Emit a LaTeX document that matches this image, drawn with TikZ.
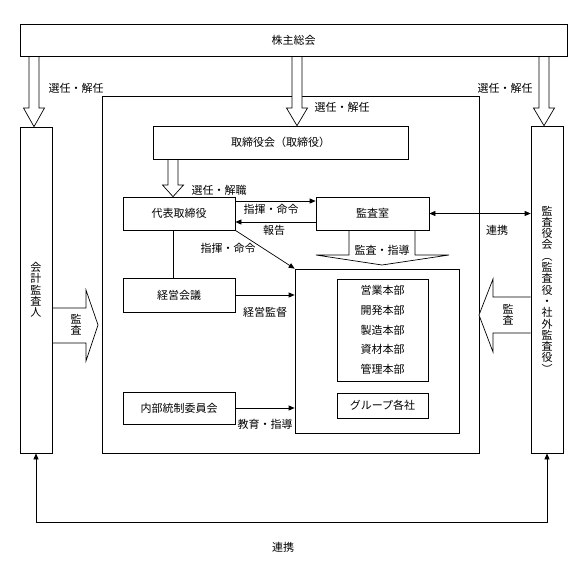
\documentclass[tikz,border=0pt]{standalone}
\usepackage{fontspec}
\setmainfont{Noto Sans CJK JP}
\usetikzlibrary{arrows.meta,backgrounds}

\begin{document}
\begin{tikzpicture}[x=1pt, y=-1pt, font=\fontsize{11}{11.3}\selectfont,
    box/.style={draw, inner sep=0pt, line width=0.7pt},
    hollow/.style={draw, fill=white, line width=0.7pt, line join=miter},
    link/.style={line width=0.7pt, -{Triangle[length=6pt,width=5pt]}},
    twoway/.style={line width=0.7pt, {Triangle[length=6pt,width=5pt]}-{Triangle[length=6pt,width=5pt]}},
    lbl/.style={inner sep=0pt}]
    \useasboundingbox (0,0) rectangle (581,571);
    % boxes
    \node[box, minimum width=547, minimum height=32 ] (soukai)  at (293.5,40)  {株主総会};
    \node[box, minimum width=32,  minimum height=326, align=center] (kaikei) at (36,290) {会\\計\\監\\査\\人};
    \node[box, minimum width=32,  minimum height=327, align=center] (kansayaku) at (547,289.5) {監\\査\\役\\会\\︵\\監\\査\\役\\・\\社\\外\\監\\査\\役\\︶};
    \node[box, minimum width=255, minimum height=33 ] (torikai) at (280.5,142.5) {取締役会（取締役）};
    \node[box, minimum width=112, minimum height=33 ] (daihyo)  at (179,213.5)   {代表取締役};
    \node[box, minimum width=113, minimum height=33 ] (kansashitsu) at (372.5,213.5) {監査室};
    \node[box, minimum width=112, minimum height=34 ] (keiei)   at (179,295)     {経営会議};
    \node[box, minimum width=112, minimum height=32 ] (naibu)   at (179,408)     {内部統制委員会};
    \node[box, minimum width=164, minimum height=164] (depts)   at (377,351)     {};
    \node[box, minimum width=91,  minimum height=102, align=center, font=\fontsize{11}{19.7}\selectfont] (honbu) at (382.5,330)
        {営業本部\\開発本部\\製造本部\\資材本部\\管理本部};
    \node[box, minimum width=91,  minimum height=25 ] (group)   at (382.5,405.5) {グループ各社};
    % connectors
    \draw[link] ([yshift=12.5pt]daihyo.east) -- ([yshift=12.5pt]kansashitsu.west);
    \draw[link] ([yshift=-8.5pt]kansashitsu.west) -- ([yshift=-8.5pt]daihyo.east);
    \draw[twoway] (kansashitsu.east) -- (kansashitsu.east -| kansayaku.west);
    \draw[link] (daihyo.south east) -- (depts.north west);
    \draw[line width=0.7pt] ([xshift=-6pt]daihyo.south) -- ([xshift=-6pt]keiei.north);
    \draw[link] (keiei.east) -- (keiei.east -| depts.west);
    \draw[link] (naibu.east) -- (naibu.east -| depts.west);
    \draw[twoway] (kaikei.south) -- (kaikei.south |- 0,522) -- (kansayaku.south |- 0,522) -- (kansayaku.south);
    % hollow arrows
    \begin{scope}[on background layer]
        \draw[line width=0.7pt] (102,96) rectangle (479,453);
        \draw[hollow] (29,0 |- soukai.south) -- (29,108) -- (23.5,108) -- (34,0 |- kaikei.north) -- (44.5,108) -- (39,108) -- (39,0 |- soukai.south);
        \draw[hollow] (292,0 |- soukai.south) -- (292,108) -- (286.5,108) -- (297,0 |- torikai.north) -- (307.5,108) -- (302,108) -- (302,0 |- soukai.south);
        \draw[hollow] (539,0 |- soukai.south) -- (539,108) -- (533.5,108) -- (544,0 |- kansayaku.north) -- (554.5,108) -- (549,108) -- (549,0 |- soukai.south);
        \draw[hollow] (168,0 |- torikai.south) -- (168,185) -- (162.5,185) -- (173,0 |- daihyo.north) -- (183.5,185) -- (178,185) -- (178,0 |- torikai.south);
        \draw[hollow] (349,0 |- kansashitsu.south) -- (349,255) -- (316,255) -- (382,265) -- (449,255) -- (415,255) -- (415,0 |- kansashitsu.south);
        \draw[hollow] (kaikei.east |- 0,308) -- (86,308) -- (86,290) -- (98,325) -- (86,361) -- (86,343) -- (kaikei.east |- 0,343);
        \draw[hollow] (kansayaku.west |- 0,297) -- (493,297) -- (493,279) -- (479,315) -- (493,352) -- (493,333) -- (kansayaku.west |- 0,333);
    \end{scope}
    % labels
    \node[lbl] (sennin1) at (76,88)   {選任・解任};
    \node[lbl] (sennin2) at (342,107) {選任・解任};
    \node[lbl] (sennin3) at (505,88)  {選任・解任};
    \node[lbl] (senkai)  at (219,190) {選任・解職};
    \node[lbl] (shiki1)  at (271,209) {指揮・命令};
    \node[lbl] (houkoku) at (274,230) {報告};
    \node[lbl] (renkei1) at (497,230) {連携};
    \node[lbl] (kanshi)  at (382,250) {監査・指導};
    \node[lbl] (shiki2)  at (228,248) {指揮・命令};
    \node[lbl] (kantoku) at (265,312) {経営監督};
    \node[lbl] (kyouiku) at (265,424) {教育・指導};
    \node[lbl, align=center] (kansa1) at (76,325)  {監\\査};
    \node[lbl, align=center] (kansa2) at (508,315) {監\\査};
    \node[lbl] (renkei2) at (283,547) {連携};
\end{tikzpicture}
\end{document}
